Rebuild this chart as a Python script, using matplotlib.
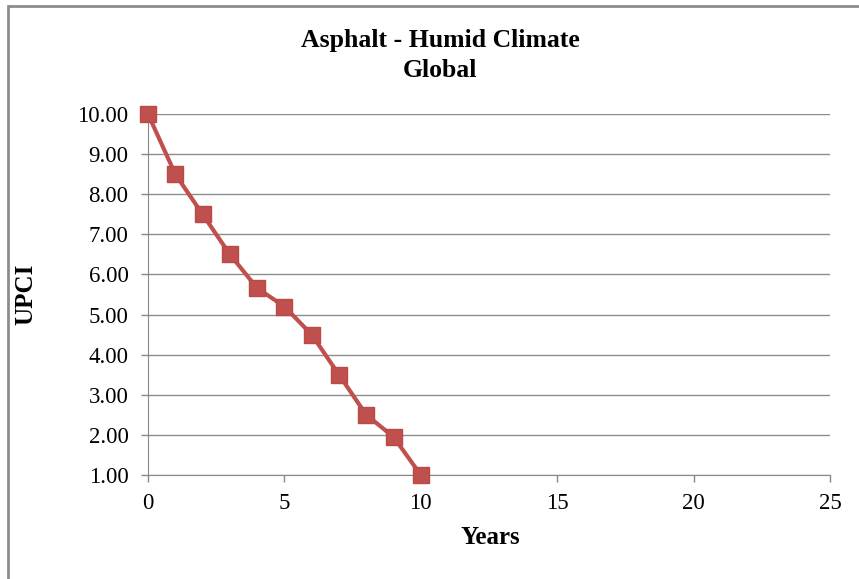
import matplotlib.pyplot as plt
from matplotlib.patches import Rectangle

years = [0, 1, 2, 3, 4, 5, 6, 7, 8, 9, 10]
upci = [10.0, 8.5, 7.5, 6.5, 5.66, 5.2, 4.5, 3.5, 2.5, 1.95, 1.0]
y_ticks = [1, 2, 3, 4, 5, 6, 7, 8, 9, 10]
x_ticks = [0, 5, 10, 15, 20, 25]

plt.rcParams['font.family'] = ['Liberation Serif', 'DejaVu Serif']

fig = plt.figure(figsize=(8.59, 5.79), dpi=100)
ax = fig.add_axes([148 / 859, 1 - 475 / 579, 682 / 859, 361 / 579])

# chart border
fig.patches.append(Rectangle((8 / 859, -0.1), 1.2, 1 - 6 / 579 + 0.1,
                             transform=fig.transFigure, fill=False,
                             edgecolor='#8c8c8c', linewidth=2))

ax.plot(years, upci, color='#C0504D', linewidth=3, marker='s',
        markersize=11.5, markerfacecolor='#C0504D', markeredgecolor='#B94A47',
        clip_on=False, zorder=3)

ax.set_xlim(0, 25)
ax.set_ylim(1, 10)
ax.set_xticks(x_ticks)
ax.set_yticks(y_ticks)
ax.set_yticklabels([f'{v:.2f}' for v in y_ticks])
ax.tick_params(labelsize=16.5, color='#888888', length=5, width=1)
ax.tick_params(axis='y', pad=9)
ax.tick_params(axis='x', pad=8)
ax.grid(axis='y', color='#8c8c8c', linewidth=1)
ax.set_axisbelow(True)
for side in ('top', 'right'):
    ax.spines[side].set_visible(False)
for side in ('left', 'bottom'):
    ax.spines[side].set_color('#888888')

fig.text(440 / 859, 1 - 40 / 579, 'Asphalt - Humid Climate', ha='center',
         va='center', fontsize=18.5, fontweight='bold')
fig.text(440 / 859, 1 - 70 / 579, 'Global', ha='center', va='center',
         fontsize=18.5, fontweight='bold')
fig.text(490 / 859, 1 - 537 / 579, 'Years', ha='center', va='center',
         fontsize=18, fontweight='bold')
fig.text(26 / 859, 1 - 294 / 579, 'UPCI', ha='center', va='center',
         rotation=90, fontsize=18, fontweight='bold')

fig.savefig('out.png', dpi=100)
